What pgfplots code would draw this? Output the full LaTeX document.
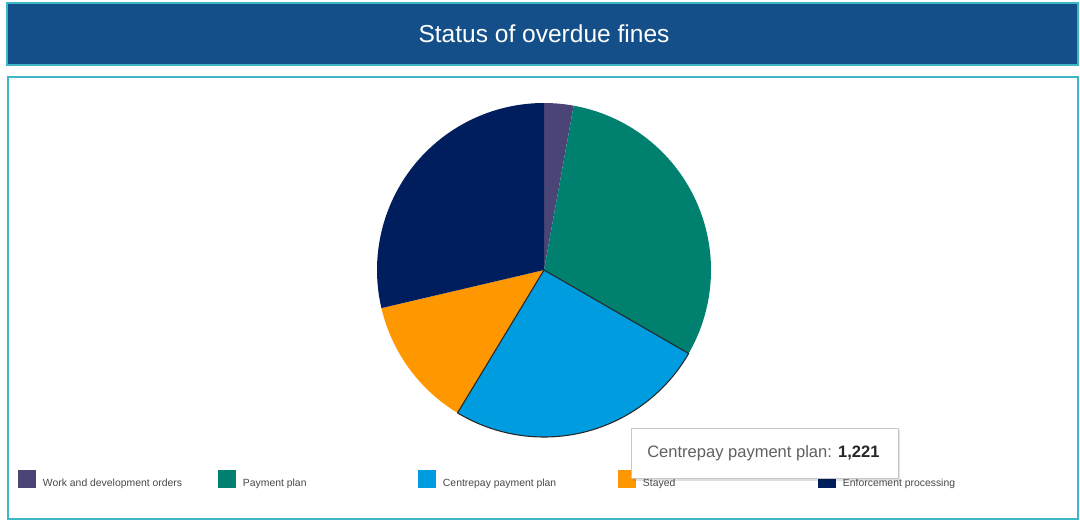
\documentclass[border=0pt]{standalone}
\usepackage{pgfplots}
\pgfplotsset{compat=1.18}
\usepackage{pgfplotstable}
\usepackage{fontspec}
\setmainfont{Liberation Sans}
\definecolor{cwork}{HTML}{4B4577}
\definecolor{cpay}{HTML}{00806F}
\definecolor{ccent}{HTML}{009CE0}
\definecolor{cstay}{HTML}{FF9800}
\definecolor{cenf}{HTML}{001E5E}
\definecolor{titlebg}{HTML}{154F8A}
\definecolor{framec}{HTML}{3DB6C8}
\pgfplotstableread{
label value
Work 137
Payment 1470
Centrepay 1221
Stayed 611
Enforcement 1382
}\fines
\pgfplotstablegetelem{0}{value}\of\fines \let\vA\pgfplotsretval
\pgfplotstablegetelem{1}{value}\of\fines \let\vB\pgfplotsretval
\pgfplotstablegetelem{2}{value}\of\fines \let\vC\pgfplotsretval
\pgfplotstablegetelem{3}{value}\of\fines \let\vD\pgfplotsretval
\pgfplotstablegetelem{4}{value}\of\fines \let\vE\pgfplotsretval
\pgfmathsetmacro\tot{\vA+\vB+\vC+\vD+\vE}
\pgfmathsetmacro\tA{90-(\vA/\tot)*360}
\pgfmathsetmacro\tB{90-((\vA+\vB)/\tot)*360}
\pgfmathsetmacro\tC{90-((\vA+\vB+\vC)/\tot)*360}
\pgfmathsetmacro\tD{90-((\vA+\vB+\vC+\vD)/\tot)*360}
\begin{document}%
\begin{tikzpicture}
\begin{scope}[x=0.75pt,y=-0.75pt]
\path (0,0) rectangle (1080,526);
\fill[titlebg] (7,3) rectangle (1078,65);
\draw[framec, line width=0.9pt] (7,3) rectangle (1078,65);
\node[text=white, font=\fontsize{18.4}{22}\selectfont] at (544,34) {Status of overdue fines};
\draw[framec, line width=1.5pt] (8,77) rectangle (1078,519);
\end{scope}
\begin{axis}[
  at={(408pt,-202.5pt)}, anchor=center,
  scale only axis, width=250.5pt, height=250.5pt,
  xmin=-1, xmax=1, ymin=-1, ymax=1,
  hide axis, clip=false,
  legend columns=5,
  legend style={at={(-1.0749,-0.1257)}, anchor=west, draw=none, fill=none,
    inner sep=0pt, outer sep=0pt, font=\fontsize{7.8}{9}\selectfont, text=black!72,
    nodes={inner sep=0pt, anchor=west, yshift=-3.75pt}},
  legend image code/.code={\path[#1, draw=none] (0pt,-6.75pt) rectangle (13.5pt,6.75pt);},
]
\addplot[fill=cwork, draw=none, domain=\tA:90, samples=30, forget plot] ({cos(x)},{sin(x)}) -- (axis cs:0,0) -- cycle;
\addplot[fill=cpay, draw=none, domain=\tB:\tA, samples=100, forget plot] ({cos(x)},{sin(x)}) -- (axis cs:0,0) -- cycle;
\addplot[fill=cstay, draw=none, domain=\tD:\tC, samples=60, forget plot] ({cos(x)},{sin(x)}) -- (axis cs:0,0) -- cycle;
\addplot[fill=cenf, draw=none, domain=-270:\tD, samples=100, forget plot] ({cos(x)},{sin(x)}) -- (axis cs:0,0) -- cycle;
\addplot[fill=ccent, draw=black!85, line width=0.8pt, line join=round, domain=\tC:\tB, samples=100, forget plot] ({cos(x)},{sin(x)}) -- (axis cs:0,0) -- cycle;
\addlegendimage{fill=cwork}
\addlegendentry{\hspace*{5.25pt}\makebox[131.25pt][l]{Work and development orders}}
\addlegendimage{fill=cpay}
\addlegendentry{\hspace*{5.25pt}\makebox[131.25pt][l]{Payment plan}}
\addlegendimage{fill=ccent}
\addlegendentry{\hspace*{5.25pt}\makebox[131.25pt][l]{Centrepay payment plan}}
\addlegendimage{fill=cstay}
\addlegendentry{\hspace*{5.25pt}\makebox[131.25pt][l]{Stayed}}
\addlegendimage{fill=cenf}
\addlegendentry{\hspace*{5.25pt}\makebox[131.25pt][l]{Enforcement processing}}
\end{axis}
\begin{scope}[x=0.75pt,y=-0.75pt]
\fill[black, opacity=0.12] (633,430) rectangle (900,481);
\fill[white] (631,428) rectangle (898,478);
\draw[black!22, line width=0.6pt] (631,428) rectangle (898,478);
\node[anchor=west, font=\fontsize{12.4}{14}\selectfont, text=black!62, inner sep=0pt] at (647,453) {Centrepay payment plan: \textcolor{black!85}{\textbf{1,221}}};
\end{scope}
\end{tikzpicture}%
\end{document}
